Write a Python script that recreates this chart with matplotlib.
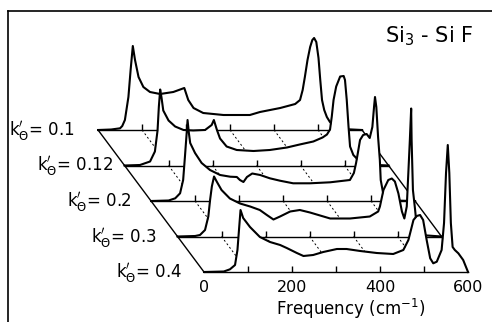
import numpy as np
import matplotlib
matplotlib.use("Agg")
import matplotlib.pyplot as plt

matplotlib.rcParams['font.family'] = 'DejaVu Sans'
matplotlib.rcParams['mathtext.fontset'] = 'dejavusans'

# spectra: frequency (cm-1) and intensity (arb. units)
# k'=0.4 (front)
freq_04 = [0, 45, 59, 70.5, 76, 80, 83, 89, 104.5, 127, 150, 173, 188, 211, 226, 248, 271, 302,
           324, 355, 392.5, 430, 453, 464.5, 472, 476, 483.5, 491, 498, 506, 514, 521, 529, 540,
           545.5, 550, 554, 557.5, 561, 565, 570, 578, 589, 600]
int_04 = [0, 0.5, 2.7, 7, 22, 45, 62, 54, 45, 35, 30, 27, 24, 19, 16, 17, 20, 23,
          23, 21, 19, 18, 22, 32, 45, 52, 56, 57, 52, 32, 13.7, 8.7, 10.3, 22,
          49, 99, 127, 99, 49, 25, 22, 18.7, 12, 0]

# k'=0.3
freq_03 = [0, 40, 51, 62.5, 70, 74, 78, 83, 89, 100, 119, 142, 165, 187, 203, 218, 233, 256,
           278, 301, 347, 392, 437, 456, 460, 468, 479, 487, 494, 502, 510, 515.5, 521, 524.5,
           528, 531, 532, 535, 540, 544, 551, 600]
int_03 = [0, 0.5, 1.5, 6.5, 20, 36.5, 50, 60, 55, 46.5, 38, 33, 30, 26.5, 21.5, 17, 20, 25,
          26.5, 24, 18, 18, 20, 25, 30, 46.5, 56.5, 58, 55, 43, 25, 18, 30, 63,
          96.5, 128, 96.5, 46.5, 26.5, 8.5, 1.5, 0]

# k'=0.2
freq_02 = [0, 40, 55, 66, 73, 77, 81, 83, 86, 89, 100, 115, 134, 157, 180, 195, 202, 210, 218,
           230, 248, 270, 293, 323, 361, 407, 452, 461, 466, 470, 475, 482, 490, 497, 503, 507,
           509, 512, 516, 520, 522, 527, 534, 545, 600]
int_02 = [0, 0.5, 2.7, 7.7, 21, 44, 68, 81, 68, 58, 48, 38, 31, 26, 24.3, 24, 21, 19, 24,
          27.5, 26, 22.7, 20.3, 17.7, 17.7, 18.7, 21, 28, 38, 48, 61, 66, 67, 63, 74, 95,
          104, 94, 64, 41, 21, 9, 3, 0.5, 0]

# k'=0.12
freq_012 = [0, 35, 58, 69, 75, 78, 81, 84, 88, 100, 115, 134, 156, 183, 198, 203, 210, 217,
            232, 255, 293, 330, 369, 398, 429, 450, 460, 467, 471, 475, 481, 490, 498, 501,
            505, 509, 512.5, 520, 531, 550, 600]
int_012 = [0, 0.5, 4, 14, 35, 59, 76, 68, 55, 45, 39, 35.5, 35, 35.5, 40.5, 45.5, 35.5, 27,
           19, 15.5, 14.5, 15.5, 18, 21, 24, 28, 31, 36, 49, 65.5, 79, 89, 89.5, 85.5,
           65.5, 39, 19, 10.5, 5.5, 1, 0]

# k'=0.1 (back)
freq_01 = [0, 30, 50, 55, 61, 69, 74, 79, 84, 92, 103, 118, 141, 171, 196, 205, 217, 239, 285,
           345, 368, 414, 448, 459, 465, 470, 476, 482, 487, 491, 496, 501, 505, 509, 514,
           520, 527, 540, 555, 600]
int_01 = [0, 0.5, 1.7, 4, 10, 33, 60, 84, 70, 53, 43, 38, 36, 38, 42, 30, 22, 17, 15,
          15, 18, 22, 26, 30, 40, 53, 70, 83, 90, 92, 88, 72, 50, 30, 20,
          13, 8, 3, 1, 0]

k_labels = [r"k$^{\prime}_{\Theta}$= 0.4", r"k$^{\prime}_{\Theta}$= 0.3", r"k$^{\prime}_{\Theta}$= 0.2",
            r"k$^{\prime}_{\Theta}$= 0.12", r"k$^{\prime}_{\Theta}$= 0.1"]
tick_freqs = [100, 200, 300, 400, 500]
axis_ticks = [0, 200, 400, 600]

traces = [(freq_04, int_04), (freq_03, int_03), (freq_02, int_02),
          (freq_012, int_012), (freq_01, int_01)]

dx = -60.2   # each trace further back is shifted left ...
dy = 35.5    # ... and up
label_x = [-50, -107, -164, -207, -293]

fig = plt.figure(figsize=(4.92, 3.22), dpi=100)
ax = fig.add_axes([7.5 / 492, 0, 484.5 / 492, 311 / 322])
ax.set_xlim(-446.6, 654.5)
ax.set_ylim(-50, 261)
ax.set_xticks([])
ax.set_yticks([])
ax.spines['right'].set_visible(False)
ax.spines['bottom'].set_visible(False)
ax.spines['left'].set_linewidth(1.2)
ax.spines['top'].set_linewidth(1.2)

# draw from back to front, white fill under each curve hides what is behind
for i in range(len(traces) - 1, -1, -1):
    f, h = traces[i]
    z = 10 * (len(traces) - i)
    x = np.array(f) + i * dx
    y = np.array(h) + i * dy
    base = i * dy

    if i < len(traces) - 1:
        # floor between this baseline and the one behind
        for t in tick_freqs:
            ax.plot([t + (i + 1) * dx, t + i * dx], [(i + 1) * dy, base],
                    color='k', lw=0.7, ls=(0, (2, 2.5)), zorder=z - 1)
        for e in [0, 600]:
            ax.plot([e + (i + 1) * dx, e + i * dx], [(i + 1) * dy, base],
                    color='k', lw=1.0, zorder=z - 1)

    ax.fill_between(x, y, base, color='white', lw=0, zorder=z)
    ax.plot([i * dx, 600 + i * dx], [base, base], color='k', lw=1.0, zorder=z + 1)
    ax.vlines(np.array(tick_freqs) + i * dx, base, base + 6, color='k', lw=1.0, zorder=z + 1)
    ax.plot(x, y, color='k', lw=1.5, zorder=z + 2, solid_joinstyle='round')

    ax.text(label_x[i], base - 5.5, k_labels[i], fontsize=12, ha='right', va='baseline')

for t in axis_ticks:
    ax.text(t, -15, str(t), fontsize=11.5, ha='center', va='center')
ax.text(334, -37, "Frequency (cm$^{-1}$)", fontsize=12, ha='center', va='center')
ax.text(411, 230, "Si$_3$ - Si F", fontsize=15, ha='left', va='baseline')

fig.savefig("out.png", dpi=100)
